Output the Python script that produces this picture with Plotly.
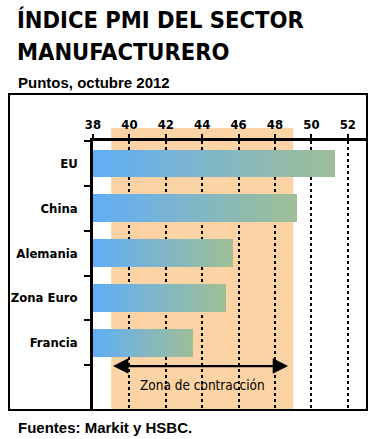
import plotly.graph_objects as go

categories = ["EU", "China", "Alemania", "Zona Euro", "Francia"]
values = [51.3, 49.2, 45.7, 45.3, 43.5]
x_ticks = [38, 40, 42, 44, 46, 48, 50, 52]
contraction_zone = [39, 49]
axis_start = 38

title_lines = ["ÍNDICE PMI DEL SECTOR", "MANUFACTURERO"]
subtitle = "Puntos, octubre 2012"
zone_label = "Zona de contracción"
source = "Fuentes: Markit y HSBC."

W, H = 370, 439
def px(x):
    return x / W
def py(y):
    return 1 - y / H

COND = "DejaVu Sans Condensed, Liberation Sans, sans-serif"
blue = (98, 174, 245)
green = (158, 190, 152)
N = 30

fig = go.Figure()
ypos = list(range(len(categories)))
for i in range(N):
    t = i / (N - 1)
    c = tuple(round(blue[k] + (green[k] - blue[k]) * t) for k in range(3))
    bases = [axis_start + (v - axis_start) * i / N for v in values]
    lens = [v - b for v, b in zip(values, bases)]
    fig.add_trace(go.Bar(
        y=ypos, x=lens, base=bases, orientation="h", width=0.62,
        marker=dict(color="rgb(%d,%d,%d)" % c, line=dict(width=0)),
        showlegend=False, hoverinfo="skip",
    ))

fig.update_layout(
    width=W, height=H, margin=dict(l=0, r=0, t=0, b=0),
    paper_bgcolor="white", plot_bgcolor="white",
    barmode="overlay", bargap=0,
    xaxis=dict(
        domain=[px(93), px(366)], range=[38, 53], side="top", automargin=False,
        tickvals=x_ticks, ticks="outside", ticklen=4, tickwidth=2, tickcolor="black",
        showline=True, linewidth=2.5, linecolor="black",
        showgrid=True, gridcolor="black", gridwidth=1.5, griddash="dot",
        zeroline=False,
        tickfont=dict(family=COND, size=13, color="black", weight="bold"),
    ),
    yaxis=dict(
        domain=[py(410), py(141)], range=[5.5, -0.5], automargin=False,
        tickvals=ypos, ticktext=categories, ticks="outside", ticklen=0, tickcolor="rgba(0,0,0,0)",
        ticklabelstandoff=10,
        minor=dict(tick0=0.5, dtick=1, ticks="outside", ticklen=6, tickwidth=2, tickcolor="black", showgrid=False),
        showline=True, linewidth=2.5, linecolor="black",
        showgrid=False, zeroline=False,
        tickfont=dict(family=COND, size=13, color="black", weight="bold"),
    ),
    font=dict(family="Liberation Sans", color="black"),
)

# contraction zone band
fig.add_shape(type="rect", xref="x", yref="paper",
              x0=contraction_zone[0], x1=contraction_zone[1],
              y0=py(410), y1=py(128), fillcolor="#fcd3a4", line=dict(width=0), layer="below")
# frame
fig.add_shape(type="rect", xref="paper", yref="paper",
              x0=px(9), x1=px(367), y0=py(410), y1=py(94),
              line=dict(color="black", width=2), fillcolor="rgba(0,0,0,0)", layer="above")

# arrow
fig.add_annotation(x=contraction_zone[0] + 0.1, y=4.52, ax=contraction_zone[1] - 0.2, ay=4.52,
                   xref="x", yref="y", axref="x", ayref="y", text="", showarrow=True,
                   arrowside="end+start", arrowhead=2, arrowsize=1.4, arrowwidth=2.2, arrowcolor="black")
fig.add_annotation(x=sum(contraction_zone) / 2, y=4.95, xref="x", yref="y", text=zone_label,
                   showarrow=False, font=dict(family=COND, size=13.5, color="black"))

fig.add_annotation(x=px(15), y=py(20), xref="paper", yref="paper", xanchor="left", yanchor="middle",
                   text="<b>%s</b>" % title_lines[0], showarrow=False,
                   font=dict(family=COND, size=23.5, color="black"))
fig.add_annotation(x=px(15), y=py(52), xref="paper", yref="paper", xanchor="left", yanchor="middle",
                   text="<b>%s</b>" % title_lines[1], showarrow=False,
                   font=dict(family=COND, size=23.5, color="black"))
fig.add_annotation(x=px(16), y=py(82), xref="paper", yref="paper", xanchor="left", yanchor="middle",
                   text="<b>%s</b>" % subtitle, showarrow=False,
                   font=dict(family="Liberation Sans", size=15, color="black"))
fig.add_annotation(x=px(16), y=py(427), xref="paper", yref="paper", xanchor="left", yanchor="middle",
                   text="<b>%s</b>" % source, showarrow=False,
                   font=dict(family="Liberation Sans", size=15, color="black"))

fig.write_html("out.html", config={"displayModeBar": False},
               post_script="document.body.style.margin='0';")
